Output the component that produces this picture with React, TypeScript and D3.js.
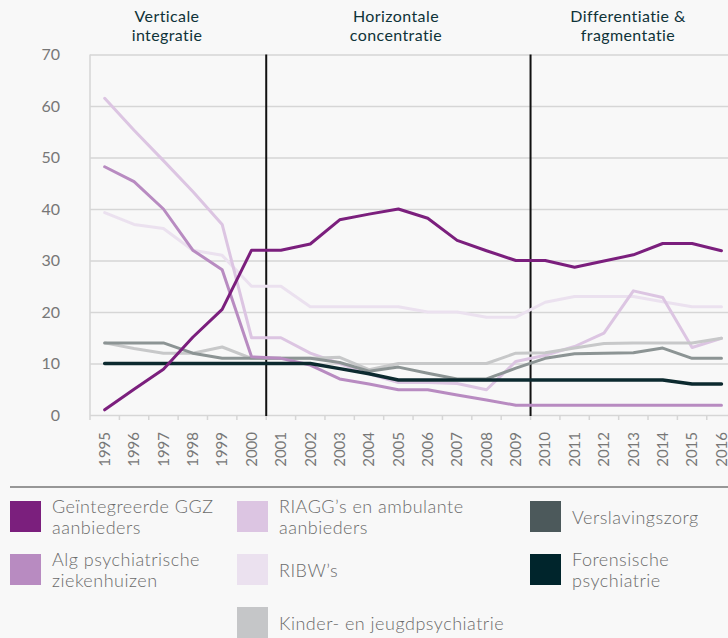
import React from "react";
import { scaleBand, scaleLinear, axisBottom, axisLeft, select, line } from "d3";

const years = [
  "1995", "1996", "1997", "1998", "1999", "2000", "2001", "2002", "2003", "2004", "2005",
  "2006", "2007", "2008", "2009", "2010", "2011", "2012", "2013", "2014", "2015", "2016",
];
const yTicks = [0, 10, 20, 30, 40, 50, 60, 70];

// values per year
const geintegreerd = [1, 5, 8.9, 15.1, 20.5, 32, 32, 33.2, 37.9, 39, 40, 38.2, 33.9, 31.9, 30, 30, 28.7, 29.9, 31.1, 33.3, 33.3, 31.9];
const algPsych = [48.2, 45.3, 40, 32, 28.2, 11.3, 11, 9.7, 7, 6, 4.9, 4.9, 3.9, 2.9, 1.9, 1.9, 1.9, 1.9, 1.9, 1.9, 1.9, 1.9];
const riagg = [61.5, 55.3, 49.4, 43.4, 37, 15, 15, 12, 10, 8, 6.3, 6.3, 6.1, 4.9, 10.4, 11.6, 13.3, 15.9, 24.1, 22.8, 13.1, 14.9];
const ribw = [39.3, 37, 36.2, 32, 31, 25, 25, 21, 21, 21, 21, 20, 20, 19, 19, 21.9, 23, 23, 23, 22, 21, 21];
const kinder = [14, 12.9, 12, 12, 13.2, 11, 11, 11, 11.2, 8.8, 10, 10, 10, 10, 12, 12.1, 13, 13.9, 14, 14, 14, 14.9];
const verslaving = [14, 14, 14, 12, 11, 11, 11, 11, 10.2, 8.5, 9.3, 8.1, 7, 7, 9.1, 11, 11.9, 12, 12.1, 13, 11, 11];
const forensisch = [10, 10, 10, 10, 10, 10, 10, 10, 9, 8, 6.8, 6.8, 6.8, 6.8, 6.8, 6.8, 6.8, 6.8, 6.8, 6.8, 6, 6];

const phases = [
  ["Verticale", "integratie"],
  ["Horizontale", "concentratie"],
  ["Differentiatie &", "fragmentatie"],
];
const phaseBreaks = ["2001", "2010"];

// drawing order: back to front
const series = [
  { name: "ribw", values: ribw, color: "#ebe1ef", width: 3 },
  { name: "riagg", values: riagg, color: "#dcc5e2", width: 3 },
  { name: "kinder", values: kinder, color: "#c7c8c9", width: 3 },
  { name: "verslaving", values: verslaving, color: "#8c9494", width: 3 },
  { name: "alg", values: algPsych, color: "#b88bc1", width: 3 },
  { name: "forensisch", values: forensisch, color: "#0c2a2f", width: 3.5 },
  { name: "geintegreerd", values: geintegreerd, color: "#7b1f7d", width: 3 },
];

const legendItems = [
  { lines: ["Geïntegreerde GGZ", "aanbieders"], color: "#7b1f7d", col: 0, row: 0 },
  { lines: ["Alg psychiatrische", "ziekenhuizen"], color: "#b88bc1", col: 0, row: 1 },
  { lines: ["RIAGG’s en ambulante", "aanbieders"], color: "#dcc5e2", col: 1, row: 0 },
  { lines: ["RIBW’s"], color: "#ebe1ef", col: 1, row: 1 },
  { lines: ["Kinder- en jeugdpsychiatrie"], color: "#c5c6c8", col: 1, row: 2 },
  { lines: ["Verslavingszorg"], color: "#4c595b", col: 2, row: 0 },
  { lines: ["Forensische", "psychiatrie"], color: "#00252c", col: 2, row: 1 },
];

const W = 728;
const H = 638;
const font = "Lato, 'Open Sans', sans-serif";

export default function App() {
  const left = 90;
  const top = 54.5;
  const bottom = 415;
  const band = 29.37;

  const x = scaleBand()
    .domain(years)
    .range([left, left + band * years.length])
    .padding(0);
  const y = scaleLinear().domain([0, 70]).range([bottom, top]);
  const cx = (d: string) => (x(d) as number) + x.bandwidth() / 2;

  const path = line<number>()
    .x((_, i) => cx(years[i]))
    .y((v) => y(v));

  const yAxisRef = (el: SVGGElement | null) => {
    if (!el) return;
    const g = select(el);
    g.call(axisLeft(y).tickValues(yTicks).tickSize(-(W - left)).tickPadding(30));
    g.select(".domain").remove();
    g.selectAll(".tick line").attr("stroke", "#d6d6d6").attr("stroke-width", 1.5);
    g.selectAll(".tick text")
      .attr("fill", "#777")
      .style("font-family", font)
      .style("font-size", "16px");
  };

  const xAxisRef = (el: SVGGElement | null) => {
    if (!el) return;
    const g = select(el);
    g.call(axisBottom(x).tickSize(0));
    g.select(".domain").remove();
    g.selectAll(".tick text")
      .attr("transform", "rotate(-90)")
      .attr("text-anchor", "end")
      .attr("x", -17)
      .attr("y", 0)
      .attr("dy", "0.35em")
      .attr("fill", "#777")
      .style("font-family", font)
      .style("font-size", "15px");
  };

  const colX = [10, 237, 530];
  const rowY = [501, 554, 607];
  const sw = 31;
  const titleX = [167, 396, 628];

  return (
    <svg
      width={W}
      height={H}
      style={{ position: "absolute", left: 0, top: 0, display: "block" }}
    >
      <rect width={W} height={H} fill="#f8f8f8" />

      {phases.map((p, i) =>
        p.map((t, j) => (
          <text
            key={`${i}-${j}`}
            x={titleX[i]}
            y={j === 0 ? 22 : 41}
            textAnchor="middle"
            fill="#0f3338"
            style={{ fontFamily: font, fontSize: 16, letterSpacing: 0.4 }}
          >
            {t}
          </text>
        ))
      )}

      <g ref={yAxisRef} transform={`translate(${left},0)`} />
      <line x1={left} x2={left} y1={top} y2={bottom} stroke="#d6d6d6" strokeWidth={1.5} />
      {years.map((d) => (
        <line key={d} x1={x(d)} x2={x(d)} y1={bottom} y2={bottom + 5} stroke="#d6d6d6" strokeWidth={1.5} />
      ))}
      <g ref={xAxisRef} transform={`translate(0,${bottom})`} />

      {phaseBreaks.map((d) => (
        <line key={d} x1={x(d)} x2={x(d)} y1={top} y2={bottom + 1} stroke="#111" strokeWidth={2} />
      ))}

      {series.map((s) => (
        <path
          key={s.name}
          d={path(s.values) || ""}
          fill="none"
          stroke={s.color}
          strokeWidth={s.width}
          strokeLinejoin="round"
          strokeLinecap="round"
        />
      ))}

      <line x1={10} x2={W} y1={487} y2={487} stroke="#777" strokeWidth={1.5} />
      {legendItems.map((it, i) => {
        const sx = colX[it.col];
        const sy = rowY[it.row];
        const c = sy + sw / 2;
        const tx = sx + 42;
        return (
          <g key={i}>
            <rect x={sx} y={sy} width={sw} height={sw} fill={it.color} />
            <text
              fill="#6b6b6b"
              style={{ fontFamily: font, fontSize: 18, fontWeight: 300, letterSpacing: 0.5 }}
            >
              {it.lines.length === 1 ? (
                <tspan x={tx} y={c + 7}>{it.lines[0]}</tspan>
              ) : (
                it.lines.map((t, j) => (
                  <tspan key={j} x={tx} y={c - 3.5 + j * 21}>{t}</tspan>
                ))
              )}
            </text>
          </g>
        );
      })}
    </svg>
  );
}
